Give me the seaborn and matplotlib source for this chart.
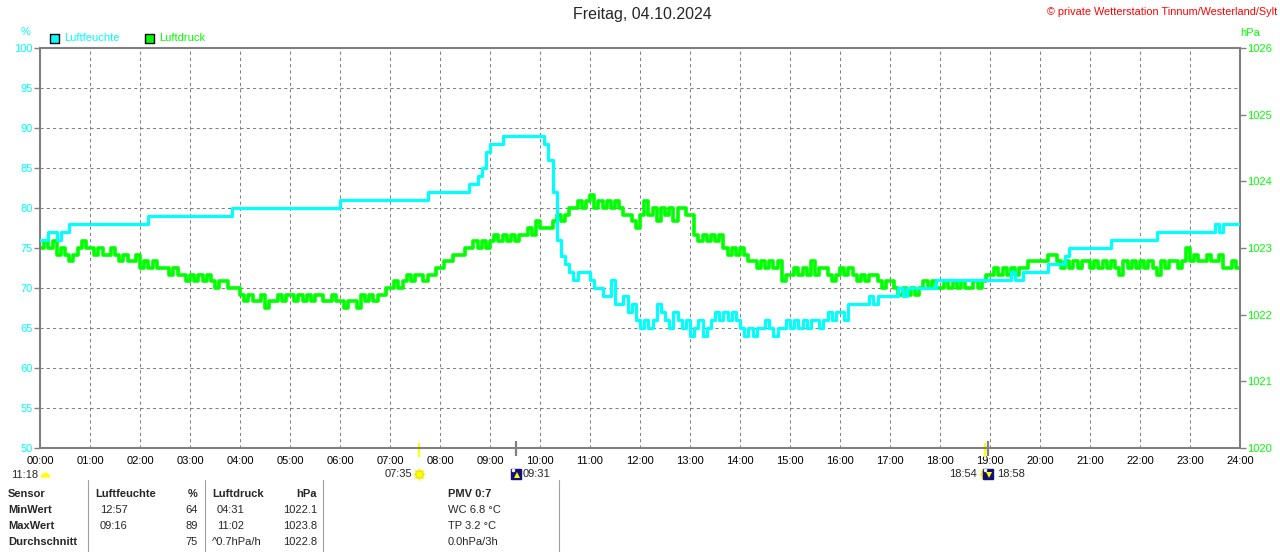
import numpy as np
import pandas as pd
import matplotlib
matplotlib.use("Agg")
import matplotlib.pyplot as plt
import matplotlib.transforms as mtransforms
from matplotlib.patches import Rectangle
from matplotlib.lines import Line2D
import seaborn as sns

# data
# ---

title = "Freitag, 04.10.2024"
copyright_text = "© private Wetterstation Tinnum/Westerland/Sylt"

# humidity in %, one value every 5 minutes from 00:00 to 24:00
humidity = [
    76, 76, 77, 77, 76, 77, 77, 78, 78, 78, 78, 78,
    78, 78, 78, 78, 78, 78, 78, 78, 78, 78, 78, 78,
    78, 78, 79, 79, 79, 79, 79, 79, 79, 79, 79, 79,
    79, 79, 79, 79, 79, 79, 79, 79, 79, 79, 80, 80,
    80, 80, 80, 80, 80, 80, 80, 80, 80, 80, 80, 80,
    80, 80, 80, 80, 80, 80, 80, 80, 80, 80, 80, 80,
    81, 81, 81, 81, 81, 81, 81, 81, 81, 81, 81, 81,
    81, 81, 81, 81, 81, 81, 81, 81, 81, 82, 82, 82,
    82, 82, 82, 82, 82, 82, 82, 83, 83, 84, 85, 87,
    88, 88, 88, 89, 89, 89, 89, 89, 89, 89, 89, 89,
    89, 88, 86, 82, 76, 74, 73, 72, 71, 72, 72, 72,
    71, 70, 70, 69, 69, 71, 68, 68, 69, 67, 68, 66,
    65, 66, 65, 66, 68, 67, 66, 65, 67, 66, 65, 66,
    64, 65, 66, 64, 65, 66, 67, 66, 67, 66, 67, 66,
    65, 64, 65, 64, 65, 65, 66, 65, 64, 65, 65, 66,
    65, 66, 65, 66, 65, 66, 66, 65, 66, 67, 66, 67,
    67, 66, 68, 68, 68, 68, 68, 69, 68, 69, 69, 69,
    69, 69, 70, 69, 70, 70, 70, 70, 70, 70, 70, 71,
    71, 71, 71, 71, 71, 71, 71, 71, 71, 71, 71, 71,
    71, 71, 71, 71, 71, 72, 71, 71, 72, 72, 72, 72,
    72, 72, 73, 73, 73, 73, 74, 75, 75, 75, 75, 75,
    75, 75, 75, 75, 75, 76, 76, 76, 76, 76, 76, 76,
    76, 76, 76, 76, 77, 77, 77, 77, 77, 77, 77, 77,
    77, 77, 77, 77, 77, 77, 78, 77, 78, 78, 78, 78,
    78,
]

# air pressure in hPa, one value every 5 minutes from 00:00 to 24:00
pressure = [
    1023.0, 1023.1, 1023.0, 1023.1, 1022.9, 1023.0, 1022.9, 1022.8, 1022.9, 1023.0, 1023.1, 1023.0,
    1023.0, 1022.9, 1023.0, 1022.9, 1022.9, 1023.0, 1022.9, 1022.8, 1022.9, 1022.8, 1022.8, 1022.9,
    1022.7, 1022.8, 1022.7, 1022.8, 1022.7, 1022.7, 1022.7, 1022.6, 1022.7, 1022.6, 1022.6, 1022.5,
    1022.6, 1022.5, 1022.6, 1022.5, 1022.6, 1022.5, 1022.4, 1022.5, 1022.5, 1022.4, 1022.4, 1022.4,
    1022.3, 1022.2, 1022.3, 1022.2, 1022.2, 1022.3, 1022.1, 1022.2, 1022.2, 1022.3, 1022.2, 1022.3,
    1022.3, 1022.2, 1022.3, 1022.2, 1022.3, 1022.2, 1022.3, 1022.3, 1022.2, 1022.2, 1022.3, 1022.2,
    1022.2, 1022.1, 1022.2, 1022.2, 1022.1, 1022.3, 1022.2, 1022.3, 1022.2, 1022.3, 1022.3, 1022.4,
    1022.4, 1022.5, 1022.4, 1022.5, 1022.6, 1022.5, 1022.6, 1022.6, 1022.5, 1022.6, 1022.6, 1022.7,
    1022.7, 1022.8, 1022.8, 1022.9, 1022.9, 1022.9, 1023.0, 1023.0, 1023.1, 1023.0, 1023.1, 1023.0,
    1023.1, 1023.2, 1023.1, 1023.2, 1023.1, 1023.2, 1023.1, 1023.2, 1023.2, 1023.3, 1023.2, 1023.4,
    1023.3, 1023.3, 1023.3, 1023.4, 1023.5, 1023.4, 1023.5, 1023.6, 1023.6, 1023.7, 1023.6, 1023.7,
    1023.8, 1023.6, 1023.7, 1023.6, 1023.7, 1023.6, 1023.7, 1023.6, 1023.5, 1023.5, 1023.4, 1023.3,
    1023.5, 1023.7, 1023.5, 1023.6, 1023.4, 1023.6, 1023.5, 1023.6, 1023.4, 1023.6, 1023.6, 1023.5,
    1023.5, 1023.2, 1023.1, 1023.2, 1023.1, 1023.2, 1023.1, 1023.2, 1023.0, 1022.9, 1023.0, 1022.9,
    1023.0, 1022.9, 1022.8, 1022.8, 1022.7, 1022.8, 1022.7, 1022.8, 1022.7, 1022.8, 1022.5, 1022.6,
    1022.6, 1022.7, 1022.6, 1022.7, 1022.6, 1022.8, 1022.6, 1022.7, 1022.7, 1022.6, 1022.5, 1022.6,
    1022.7, 1022.6, 1022.7, 1022.6, 1022.5, 1022.6, 1022.5, 1022.6, 1022.6, 1022.5, 1022.4, 1022.5,
    1022.5, 1022.4, 1022.3, 1022.4, 1022.3, 1022.4, 1022.3, 1022.4, 1022.5, 1022.4, 1022.5, 1022.4,
    1022.4, 1022.5, 1022.4, 1022.5, 1022.4, 1022.5, 1022.4, 1022.4, 1022.5, 1022.4, 1022.5, 1022.6,
    1022.6, 1022.7, 1022.6, 1022.7, 1022.6, 1022.7, 1022.6, 1022.7, 1022.7, 1022.8, 1022.8, 1022.8,
    1022.8, 1022.8, 1022.9, 1022.9, 1022.8, 1022.7, 1022.8, 1022.7, 1022.8, 1022.7, 1022.8, 1022.8,
    1022.7, 1022.8, 1022.7, 1022.8, 1022.7, 1022.8, 1022.7, 1022.6, 1022.8, 1022.7, 1022.8, 1022.7,
    1022.8, 1022.7, 1022.8, 1022.7, 1022.6, 1022.8, 1022.7, 1022.8, 1022.8, 1022.7, 1022.8, 1023.0,
    1022.8, 1022.9, 1022.8, 1022.8, 1022.9, 1022.8, 1022.8, 1022.9, 1022.7, 1022.7, 1022.8, 1022.7,
    1022.7,
]

hour_labels = [f"{h:02d}:00" for h in range(25)]
hum_ticks = [50, 55, 60, 65, 70, 75, 80, 85, 90, 95, 100]
pres_ticks = [1020, 1021, 1022, 1023, 1024, 1025, 1026]

day_length = "11:18"
sunrise = "07:35"
sunset = "18:54"
moonrise = "09:31"
moonset = "18:58"

# table below the chart
row_names = ["Sensor", "MinWert", "MaxWert", "Durchschnitt"]
hum_times = ["12:57", "09:16", ""]
hum_values = ["64", "89", "75"]
pres_times = ["04:31", "11:02", "^0.7hPa/h"]
pres_values = ["1022.1", "1023.8", "1022.8"]
extra_head = "PMV 0:7"
extra_values = ["WC 6.8 °C", "TP 3.2 °C", "0.0hPa/3h"]


# plot
# ---

sns.set_style("white")
plt.rcParams["font.family"] = ["Liberation Sans", "DejaVu Sans"]

W, H = 1280, 552
CYAN = "#00FFFF"
GREEN = "#00FF00"
GRAY = "#808080"
FS = 8


def px(x, y):
    # pixel position -> figure fraction
    return x / W, 1 - y / H


def hours(s):
    hh, mm = s.split(":")
    return int(hh) + int(mm) / 60


fig = plt.figure(figsize=(W / 100, H / 100), dpi=100)
ax_p = fig.add_axes([40 / W, 1 - 448 / H, 1200 / W, 400 / H])
ax_h = ax_p.twinx()

df = pd.DataFrame({
    "hour": np.arange(len(humidity)) * 5 / 60,
    "humidity": humidity,
    "pressure": pressure,
})

sns.lineplot(data=df, x="hour", y="pressure", ax=ax_p, color=GREEN,
             linewidth=2.6, drawstyle="steps-post", estimator=None)
sns.lineplot(data=df, x="hour", y="humidity", ax=ax_h, color=CYAN,
             linewidth=2.3, drawstyle="steps-post", estimator=None)

ax_p.set_xlim(0, 24)
ax_p.set_ylim(pres_ticks[0], pres_ticks[-1])
ax_h.set_ylim(hum_ticks[0], hum_ticks[-1])
for a in (ax_p, ax_h):
    a.set_xlabel("")
    a.set_ylabel("")

# pressure on the right, humidity on the left
ax_p.yaxis.tick_right()
ax_h.yaxis.tick_left()

ax_p.set_xticks(range(25))
ax_p.set_xticklabels(hour_labels)
ax_p.set_yticks(pres_ticks)
ax_h.set_yticks(hum_ticks)

# dashed grid on the lower axes so the lines stay on top
p0, p1 = pres_ticks[0], pres_ticks[-1]
h0, h1 = hum_ticks[0], hum_ticks[-1]
grid_rows = [p0 + (h - h0) * (p1 - p0) / (h1 - h0) for h in hum_ticks[1:-1]]
ax_p.set_yticks(grid_rows, minor=True)
ax_p.grid(axis="x", which="major", color=GRAY, linestyle=(0, (3, 3)), linewidth=0.75)
ax_p.grid(axis="y", which="minor", color=GRAY, linestyle=(0, (3, 3)), linewidth=0.75)
ax_p.grid(axis="y", which="major", visible=False)

ax_p.tick_params(axis="x", length=0, pad=6, labelsize=FS, labelcolor="black")
ax_p.tick_params(axis="y", which="major", length=4, width=1, color=GRAY,
                 labelcolor=GREEN, labelsize=FS, pad=1)
ax_p.tick_params(axis="y", which="minor", length=0)
ax_h.tick_params(axis="y", length=4, width=1, color=GRAY,
                 labelcolor=CYAN, labelsize=FS, pad=1)

for s in ax_p.spines.values():
    s.set_visible(True)
    s.set_color(GRAY)
    s.set_linewidth(1.5)
for s in ax_h.spines.values():
    s.set_visible(False)

# unit labels, legend, title
fig.text(*px(26, 32), "%", color=CYAN, fontsize=FS, ha="center", va="center")
fig.text(*px(1250, 33), "hPa", color=GREEN, fontsize=FS, ha="center", va="center")

for x0, col, name in [(50, CYAN, "Luftfeuchte"), (145, GREEN, "Luftdruck")]:
    fig.add_artist(Rectangle(px(x0, 43), 9 / W, 9 / H, transform=fig.transFigure,
                             facecolor=col, edgecolor="black", linewidth=1))
    fig.text(*px(x0 + 14, 38), name, color=col, fontsize=FS, ha="left", va="center")

fig.text(*px(642, 15), title, fontsize=11.5, ha="center", va="center")
fig.text(*px(1277, 12), copyright_text, color="red", fontsize=7.8,
         ha="right", va="center")

# sun and moon events below the time axis
blend = mtransforms.blended_transform_factory(ax_p.transData, ax_p.transAxes)
icon_y = (448 - 474) / 400


def mark(t, color, y0, y1):
    ax_p.plot([t, t], [y0, y1], color=color, linewidth=1.6,
              transform=blend, clip_on=False, solid_capstyle="butt")


def sun(t):
    ax_p.plot([t], [icon_y], marker=(8, 2, 0), markersize=9, color="#FFF27A",
              markeredgewidth=1, transform=blend, clip_on=False)
    ax_p.plot([t], [icon_y], marker="o", markersize=5.5, color="#FFFF00",
              markeredgecolor="#F0E000", transform=blend, clip_on=False)


def moon(t, arrow):
    ax_p.plot([t], [icon_y], marker="s", markersize=7.5, color="#10107A",
              transform=blend, clip_on=False)
    ax_p.plot([t - 0.06], [icon_y + 0.01], marker="o", markersize=2.5, color="white",
              markeredgewidth=0, transform=blend, clip_on=False)
    ax_p.plot([t + 0.02], [icon_y - 0.002], marker=arrow, markersize=4, color="#FFFF00",
              markeredgewidth=0, transform=blend, clip_on=False)


def label(t, text, dx, ha):
    ax_p.annotate(text, xy=(t, icon_y), xycoords=blend, xytext=(dx, 0),
                  textcoords="offset pixels", ha=ha, va="center", fontsize=FS,
                  annotation_clip=False)


t_rise, t_set = hours(sunrise), hours(sunset)
t_mrise, t_mset = hours(moonrise), hours(moonset)

mark(t_rise, "#FFFF00", 0.0125, -0.0225)
mark(t_set, "#FFFF00", 0.0125, -0.0225)
mark(t_mrise, GRAY, 0.0175, -0.02)
mark(t_mset, GRAY, 0.0175, -0.02)

sun(t_rise)
label(t_rise, sunrise, -7, "right")
sun(t_set)
label(t_set, sunset, -8, "right")
moon(t_mrise, "^")
label(t_mrise, moonrise, 7, "left")
moon(t_mset, "v")
label(t_mset, moonset, 9, "left")

# day length with half sun
fig.text(*px(38, 475), day_length, fontsize=FS, ha="right", va="center")
ax_p.plot([0.1], [(448 - 477) / 400], marker="o", markersize=7, color="#FFFF00",
          fillstyle="top", markerfacecoloralt="none", markeredgewidth=0,
          transform=blend, clip_on=False)

# table
for x in (88, 205, 323, 559):
    fig.add_artist(Line2D([x / W, x / W], [1 - 480 / H, 0], transform=fig.transFigure,
                          color="#A0A0A0", linewidth=0.8))

row_y = [494, 510, 526, 542]
for name, y in zip(row_names, row_y):
    fig.text(*px(8, y), name, fontsize=FS, fontweight="bold", va="center")

fig.text(*px(95, row_y[0]), "Luftfeuchte", fontsize=FS, fontweight="bold", va="center")
fig.text(*px(198, row_y[0]), "%", fontsize=FS, fontweight="bold", va="center", ha="right")
fig.text(*px(212, row_y[0]), "Luftdruck", fontsize=FS, fontweight="bold", va="center")
fig.text(*px(317, row_y[0]), "hPa", fontsize=FS, fontweight="bold", va="center", ha="right")
fig.text(*px(448, row_y[0]), extra_head, fontsize=FS, fontweight="bold", va="center")

for i, y in enumerate(row_y[1:]):
    fig.text(*px(100, y), hum_times[i], fontsize=FS, va="center")
    fig.text(*px(198, y), hum_values[i], fontsize=FS, va="center", ha="right")
    x_pt = 212 if pres_times[i].startswith("^") else 217
    fig.text(*px(x_pt, y), pres_times[i], fontsize=FS, va="center")
    fig.text(*px(317, y), pres_values[i], fontsize=FS, va="center", ha="right")
    fig.text(*px(448, y), extra_values[i], fontsize=FS, va="center")

fig.savefig("out.png", dpi=100)
plt.close(fig)
